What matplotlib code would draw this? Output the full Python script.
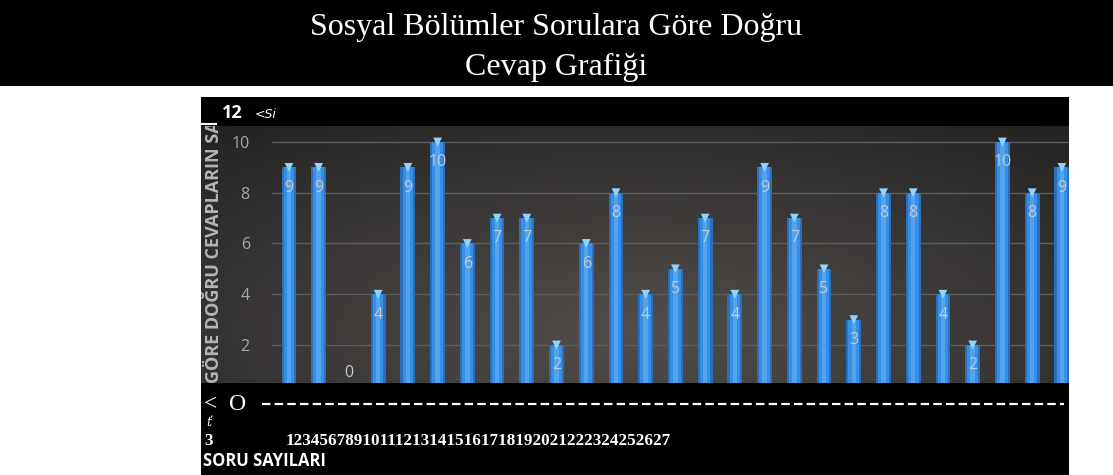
import matplotlib
matplotlib.use("Agg")
import matplotlib.pyplot as plt
import numpy as np
from matplotlib.patches import Rectangle
from matplotlib.lines import Line2D

# chart data
questions = list(range(1, 28))
correct = [9, 9, 0, 4, 9, 10, 6, 7, 7, 2, 6, 8, 4, 5, 7, 4, 9, 7, 5, 3, 8, 8, 4, 2, 10, 8, 9]
y_ticks = [2, 4, 6, 8, 10]

title_1 = "Sosyal Bölümler Sorulara Göre Doğru"
title_2 = "Cevap Grafiği"
y_title = "GÖRE DOĞRU CEVAPLARIN SA"
x_title = "SORU SAYILARI"

W, H = 1113, 475
fig = plt.figure(figsize=(W / 100, H / 100), dpi=100, facecolor="white")


def fx(px):
    return px / W


def fy(py):
    return 1 - py / H


# title band
fig.patches.append(Rectangle((0, fy(86)), 1, 86 / H, transform=fig.transFigure,
                             facecolor="black", edgecolor="none", zorder=-5))
fig.text(0.5, fy(27), title_1, color="white", ha="center", va="center",
         family="Liberation Serif", fontsize=23)
fig.text(0.5, fy(67), title_2, color="white", ha="center", va="center",
         family="Liberation Serif", fontsize=23)

# black box behind the chart
fig.patches.append(Rectangle((fx(201), 0), fx(1069) - fx(201), fy(97), transform=fig.transFigure,
                             facecolor="black", edgecolor="none", zorder=-5))

# gray gradient plot area
top, bottom = 126, 383
bg = fig.add_axes([fx(201), fy(bottom), fx(1069) - fx(201), (bottom - top) / H])
gx, gy = np.meshgrid(np.linspace(-1, 1, 300), np.linspace(-1, 1, 100))
r = np.clip(np.sqrt((gx * 0.9) ** 2 + ((gy + 0.6) * 0.7) ** 2), 0, 1.4)
shade = 0.31 - 0.12 * r
img = np.dstack([shade * 1.03, shade * 0.99, shade * 0.96])
bg.imshow(np.clip(img, 0, 1), aspect="auto", extent=[0, 1, 0, 1], origin="lower")
bg.set_xlim(0, 1)
bg.set_ylim(0, 1)
bg.axis("off")
bg.text(0.0145, 0.0, y_title, rotation=90, ha="center", va="bottom", color="#b5b5b5",
        family="Open Sans", fontweight="bold", fontsize=13, clip_on=True)

# bars
ax = fig.add_axes([fx(272), fy(bottom), fx(1069) - fx(272), (bottom - top) / H])
ax.set_facecolor("none")
x = np.array(questions) - 1
ax.set_xlim(-0.57, 26.24)
ax.set_ylim(0.5, 10.63)
for t in y_ticks:
    ax.axhline(t, color="#5e5e5e", lw=1, zorder=1)
ax.bar(x, correct, width=0.5, color="#2a6fbd", zorder=2)
ax.bar(x, correct, width=0.36, color="#388ee2", zorder=3)
ax.bar(x, correct, width=0.15, color="#52a4ee", zorder=4)
ax.scatter(x, correct, marker="v", s=40, color="#8fd3ff", edgecolor="none", zorder=5)
for xi, v in zip(x, correct):
    yl = v - 0.8 if v > 0 else 0.9
    ax.text(xi, yl, str(v), ha="center", va="center", color="#c3cbd4",
            family="Open Sans", fontsize=11.5, zorder=6)
ax.set_yticks(y_ticks)
ax.set_yticklabels([str(t) for t in y_ticks], color="#a8a8a8", family="Open Sans", fontsize=11.5)
ax.tick_params(axis="y", length=0, pad=16)
ax.set_xticks([])
for s in ax.spines.values():
    s.set_visible(False)

# header strip text
fig.add_artist(Line2D([fx(202), fx(216)], [fy(124), fy(124)], color="white", lw=1.5,
                      transform=fig.transFigure))
fig.text(fx(222), fy(113), "12", color="white", ha="left", va="center",
         family="Open Sans", fontweight="bold", fontsize=13)
fig.text(fx(255), fy(115), "<Si", color="white", ha="left", va="center",
         family="DejaVu Sans", style="italic", fontsize=9)

# lines below the chart
fig.text(fx(204), fy(405), "<  O", color="white", ha="left", va="center",
         family="Liberation Serif", fontsize=17)
fig.add_artist(Line2D([fx(262), fx(1064)], [fy(404), fy(404)], color="white", lw=1.6,
                      dashes=(3.8, 1.9), transform=fig.transFigure))
fig.text(fx(206), fy(423), "ť", color="white", ha="left", va="center",
         family="DejaVu Serif", style="italic", fontsize=9)
fig.text(fx(204), fy(441), "3", color="white", ha="left", va="center",
         family="Liberation Serif", fontweight="bold", fontsize=12.3)
fig.text(fx(286), fy(441), "".join(str(q) for q in questions), color="white", ha="left",
         va="center", family="Liberation Serif", fontweight="bold", fontsize=12.3)
fig.text(fx(203), fy(461), x_title, color="white", ha="left", va="center",
         family="Open Sans", fontweight="bold", fontsize=12)

fig.savefig("out.png", dpi=100, facecolor="white")
